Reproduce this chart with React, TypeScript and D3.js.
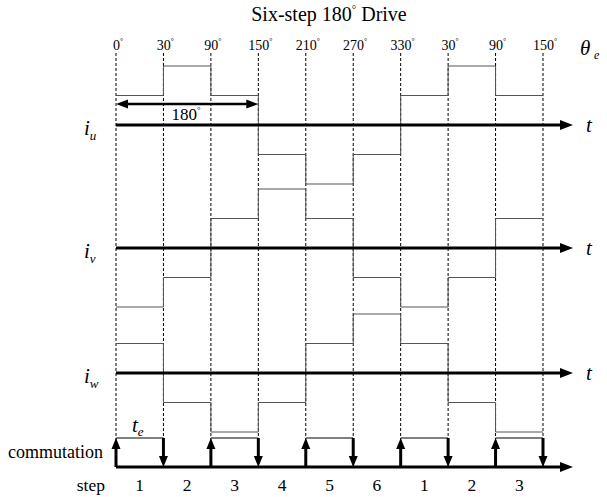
import React from 'react';
import * as d3 from 'd3';

// step boundaries (electrical angle labels) and step numbers
const angleLabels = ['0', '30', '90', '150', '210', '270', '330', '30', '90', '150'];
const stepLabels = ['1', '2', '3', '4', '5', '6', '1', '2', '3'];

// phase currents per step (relative levels)
const iuLevels = [1, 2, 1, -1, -2, -1, 1, 2, 1];
const ivLevels = [-2, -1, 1, 2, 1, -1, -2, -1, 1];
const iwLevels = [1, -1, -2, -1, 1, 2, 1, -1, -2];

// commutation pulse: 1 = high during the step
const commutation = [1, 0, 1, 0, 1, 0, 1, 0, 1];

const phases = [
  { name: 'u', levels: iuLevels, axisY: 125 },
  { name: 'v', levels: ivLevels, axisY: 248 },
  { name: 'w', levels: iwLevels, axisY: 373 },
];

const W = 607;
const H = 497;
const font = "'Liberation Serif', 'Times New Roman', serif";

const x = d3.scaleLinear().domain([0, stepLabels.length]).range([116, 543]);
const unit = 29.5;
const commY = 467;
const commTop = 438;
const axisEnd = 573;

const arrowRight = (y: number, tip: number) =>
  `M${tip},${y} L${tip - 13},${y - 5} L${tip - 13},${y + 5} Z`;

export default function App() {
  const stepPath = (levels: number[], axisY: number) => {
    const pts: [number, number][] = levels.map((v, i) => [i, v]);
    pts.push([levels.length, levels[levels.length - 1]]);
    const line = d3
      .line<[number, number]>()
      .x((d) => x(d[0]))
      .y((d) => axisY - d[1] * unit)
      .curve(d3.curveStepAfter);
    return line(pts) || '';
  };

  const boundaries = d3.range(angleLabels.length);

  return (
    <svg
      width={W}
      height={H}
      style={{ position: 'absolute', left: 0, top: 0, background: '#fff', fontFamily: font }}
    >
      {/* title */}
      <text x={329} y={21} textAnchor="middle" fontSize={20}>
        Six-step 180
        <tspan fontSize={11} dy={-8}>°</tspan>
        <tspan dy={8}> Drive</tspan>
      </text>

      {/* angle ticks */}
      {boundaries.map((i) => (
        <text key={'a' + i} x={x(i) + 2} y={50} textAnchor="middle" fontSize={14}>
          {angleLabels[i]}
          <tspan fontSize={8} dy={-6}>°</tspan>
        </text>
      ))}
      <text x={580} y={55} fontSize={21} fontStyle="italic">
        θ
      </text>
      <text x={594} y={59} fontSize={12} fontStyle="italic">
        e
      </text>

      {/* dashed step boundaries */}
      {boundaries.map((i) => (
        <line
          key={'d' + i}
          x1={x(i)}
          x2={x(i)}
          y1={53}
          y2={commY}
          stroke="#000"
          strokeWidth={1}
          strokeDasharray="3,2"
        />
      ))}

      {/* phase currents */}
      {phases.map((p) => (
        <g key={p.name}>
          <path d={stepPath(p.levels, p.axisY)} fill="none" stroke="#555" strokeWidth={1} />
          <line x1={x(0)} x2={axisEnd - 12} y1={p.axisY} y2={p.axisY} stroke="#000" strokeWidth={3} />
          <path d={arrowRight(p.axisY, axisEnd)} fill="#000" />
          <text x={84} y={p.axisY + 10} fontSize={21} fontStyle="italic">
            i<tspan fontSize={13} dy={5}>{p.name}</tspan>
          </text>
          <text x={589} y={p.axisY + 7} fontSize={21} fontStyle="italic" textAnchor="middle">
            t
          </text>
        </g>
      ))}

      {/* 180 degree span */}
      <line x1={x(0) + 10} x2={x(3) - 10} y1={104} y2={104} stroke="#000" strokeWidth={2.5} />
      <path d={`M${x(0)},104 L${x(0) + 12},99.5 L${x(0) + 12},108.5 Z`} fill="#000" />
      <path d={`M${x(3)},104 L${x(3) - 12},99.5 L${x(3) - 12},108.5 Z`} fill="#000" />
      <text x={(x(0) + x(3)) / 2 - 1} y={120} textAnchor="middle" fontSize={17}>
        180<tspan fontSize={9} dy={-7}>°</tspan>
      </text>

      {/* commutation */}
      <line x1={x(0)} x2={axisEnd - 12} y1={commY} y2={commY} stroke="#000" strokeWidth={3} />
      <path d={arrowRight(commY, axisEnd)} fill="#000" />
      {commutation.map((c, i) =>
        c ? (
          <g key={'c' + i}>
            <line x1={x(i)} x2={x(i + 1)} y1={commTop} y2={commTop} stroke="#000" strokeWidth={1} />
            <line x1={x(i)} x2={x(i)} y1={commY} y2={commTop + 10} stroke="#000" strokeWidth={3} />
            <path
              d={`M${x(i)},${commTop} L${x(i) - 4.5},${commTop + 11} L${x(i) + 4.5},${commTop + 11} Z`}
              fill="#000"
            />
            <line x1={x(i + 1)} x2={x(i + 1)} y1={commTop} y2={commY - 10} stroke="#000" strokeWidth={3} />
            <path
              d={`M${x(i + 1)},${commY} L${x(i + 1) - 4.5},${commY - 11} L${x(i + 1) + 4.5},${commY - 11} Z`}
              fill="#000"
            />
          </g>
        ) : null
      )}
      <text x={132} y={432} fontSize={21} fontStyle="italic">
        t<tspan fontSize={13} dy={4}>e</tspan>
      </text>
      <text x={103} y={458} textAnchor="end" fontSize={18}>
        commutation
      </text>

      {/* steps */}
      <text x={105} y={491} textAnchor="end" fontSize={17.5}>
        step
      </text>
      {stepLabels.map((s, i) => (
        <text key={'s' + i} x={(x(i) + x(i + 1)) / 2} y={491} textAnchor="middle" fontSize={17.5}>
          {s}
        </text>
      ))}
    </svg>
  );
}
